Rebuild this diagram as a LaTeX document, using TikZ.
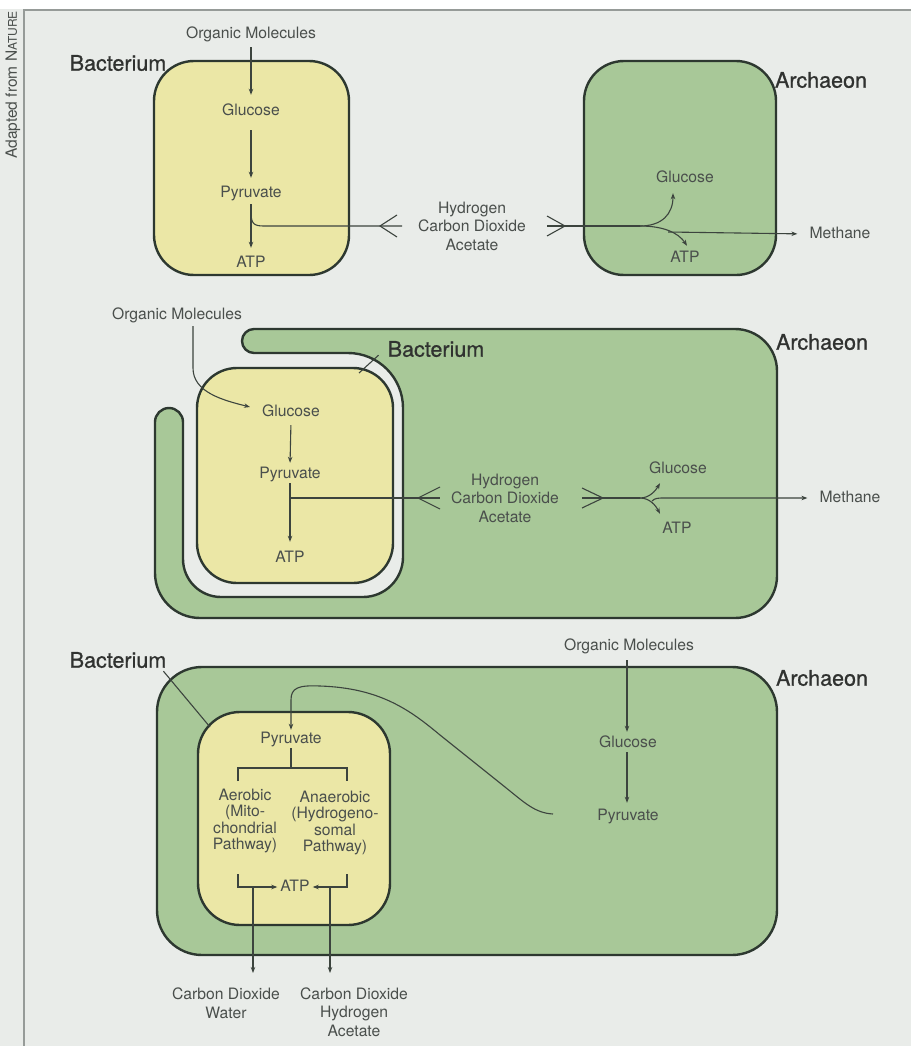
\documentclass[tikz,border=0pt]{standalone}
\usepackage{fontspec}
\setmainfont{TeX Gyre Heros}
\newfontfamily\ttlfont[FakeBold=0.8]{TeX Gyre Heros}
\usetikzlibrary{arrows.meta,calc}
\definecolor{bgc}{RGB}{233,236,233}
\definecolor{yel}{RGB}{235,231,166}
\definecolor{grn}{RGB}{168,200,152}
\definecolor{edgec}{RGB}{45,56,48}
\definecolor{lncol}{RGB}{60,68,62}
\definecolor{txt}{RGB}{74,79,76}
\definecolor{ttl}{RGB}{48,50,48}
\definecolor{frm}{RGB}{150,155,152}
\begin{document}
\begin{tikzpicture}[x=1pt,y=-1pt,
  cell/.style={draw=edgec,line width=2.4pt},
  lbl/.style={text=txt,font=\fontsize{15.7}{18.5}\selectfont,inner sep=2pt,align=center},
  sl/.style={lbl,text height=11pt,text depth=3pt},
  ttlstyle/.style={text=ttl,font=\ttlfont\fontsize{21.5}{24}\selectfont,inner sep=0pt},
  conn/.style={draw=lncol,line width=1.1pt},
  arr/.style={conn,-{Stealth[length=6pt,width=4.5pt]},shorten <=2pt,shorten >=6pt},
  pathtxt/.style={lbl,font=\fontsize{15.7}{16.4}\selectfont}
]
\useasboundingbox (0,0) rectangle (911,1046);
\fill[bgc] (0,0) rectangle (911,1046);
\fill[white] (0,0) rectangle (911,9);
\draw[frm,line width=1.2pt] (24,1046) -- (24,10) -- (911,10);
\node[rotate=90,text=txt,font=\fontsize{15.5}{17}\selectfont,inner sep=0pt] (src) at (13,85) {Adapted from N{\fontsize{12}{13}\selectfont ATURE}};

% ================= TOP PANEL =================
\draw[cell,fill=yel,rounded corners=40pt] (154,61) rectangle (349,275);
\draw[cell,fill=grn,rounded corners=40pt] (584,61) rectangle (776,275);
\node[ttlstyle] (bac1) at (118,63) {Bacterium};
\node[ttlstyle] (arc1) at (821,80) {Archaeon};

\node[sl] (om1) at (251,35) {Organic Molecules};
\node[sl] (glu1) at (251,112) {Glucose};
\node[sl] (pyr1) at (251,193) {Pyruvate};
\node[sl] (atp1) at (251,263) {ATP};
\draw[arr,shorten <=3pt,shorten >=8pt] (om1.south) -- (glu1.north);
\draw[arr,shorten <=9pt,shorten >=6pt] (glu1.south) -- (pyr1.north);
\draw[arr,shorten <=2pt,shorten >=6pt] (pyr1.south) -- (atp1.north);
\coordinate (jb1) at (251,212);
\coordinate (tl1) at (380,226);
\draw[conn] (jb1) .. controls (251,224) and (254,226) .. (264,226) -- (402,226);
\draw[conn] (397,215) -- (tl1) -- (397,237);

\node[lbl] (hca1) at (472,226) {Hydrogen\\Carbon Dioxide\\Acetate};

\coordinate (tr1) at (565,226);
\coordinate (fk1) at (640,226);
\draw[conn] (547,216) -- (tr1) -- (547,236);
\draw[conn] (547,226) -- (fk1);
\node[sl] (glu2) at (685,178) {Glucose};
\node[sl] (atp2) at (685,258) {ATP};
\node[sl] (meth1) at (840,234) {Methane};
\draw[arr,shorten <=0pt,shorten >=0pt] (fk1) .. controls (662,226) and (673,214) .. ($(glu2.south)+(-12,6)$);
\draw[arr,shorten <=0pt,shorten >=0pt] (fk1) .. controls (662,226) and (678,232) .. ($(atp2.north)+(2,-3)$);
\draw[arr,shorten <=0pt,shorten >=10pt] (668,232) -- (meth1.west);

% ================= MIDDLE PANEL =================
\draw[cell,fill=grn] (300,329) -- (735,329)
  arc[start angle=270,end angle=360,radius=42] -- (777,576)
  arc[start angle=0,end angle=90,radius=42] -- (200,618)
  arc[start angle=90,end angle=180,radius=45] -- (155,422)
  arc[start angle=180,end angle=360,radius=14] -- (183,559)
  arc[start angle=180,end angle=90,radius=38] -- (363,597)
  arc[start angle=90,end angle=0,radius=40] -- (403,408)
  arc[start angle=0,end angle=-90,radius=55] -- (254,353)
  arc[start angle=90,end angle=270,radius=12] -- cycle;
\draw[cell,fill=yel,rounded corners=40pt] (197,368) rectangle (393,583);
\node[ttlstyle] (bac2) at (436,349) {Bacterium};
\node[ttlstyle] (arc2) at (822,342) {Archaeon};
\draw[conn] ($(bac2.south west)+(-9,-2)$) -- (359,373);

\node[sl] (om2) at (177,315) {Organic Molecules};
\node[sl] (glu3) at (291,412) {Glucose};
\node[sl] (pyr3) at (290,474) {Pyruvate};
\node[sl] (atp3) at (290,558) {ATP};
\draw[arr,shorten <=0pt,shorten >=0pt] ($(om2.south)+(16,2)$) -- (193,368) .. controls (193,392) and (222,400) .. ($(glu3.west)+(-10,-5)$);
\draw[arr,shorten <=4pt,shorten >=2pt] (glu3.south) -- (pyr3.north);
\draw[arr,shorten <=0pt,shorten >=7pt] (pyr3.south) -- (atp3.north);
\coordinate (jb2) at (290,498);
\coordinate (tl2) at (418,498);
\draw[conn] (jb2) -- (440,498);
\draw[conn] (440,487) -- (tl2) -- (440,509);

\node[lbl] (hca2) at (505,498) {Hydrogen\\Carbon Dioxide\\Acetate};

\coordinate (tr2) at (603,498);
\coordinate (fk2) at (640,498);
\draw[conn] (582,488) -- (tr2) -- (582,508);
\draw[conn] (582,498) -- (fk2);
\node[sl] (glu4) at (678,469) {Glucose};
\node[sl] (atp4) at (677,529) {ATP};
\node[sl] (meth2) at (850,498) {Methane};
\draw[arr,shorten <=0pt,shorten >=0pt] (fk2) .. controls (650,498) and (656,490) .. ($(glu4.south)+(-18,5)$);
\draw[arr,shorten <=0pt,shorten >=0pt] (fk2) .. controls (650,498) and (656,506) .. ($(atp4.north)+(-17,-6)$);
\draw[arr,shorten <=0pt,shorten >=10pt] (652,501) .. controls (655,498) and (658,498) .. (665,498) -- (meth2.west);

% ================= BOTTOM PANEL =================
\draw[cell,fill=grn,rounded corners=45pt] (157,667) rectangle (777,955);
\draw[cell,fill=yel,rounded corners=42pt] (198,712) rectangle (390,925);
\node[ttlstyle] (bac3) at (118,660) {Bacterium};
\node[ttlstyle] (arc3) at (822,678) {Archaeon};
\draw[conn] ($(bac3.south east)+(-3,3)$) -- (210,727);

\node[sl] (om6) at (629,646) {Organic Molecules};
\node[sl] (glu6) at (628,743) {Glucose};
\node[sl] (pyr6) at (628,816) {Pyruvate};
\draw[arr,shorten <=5pt,shorten >=2pt] (om6.south -| 627,0) -- (glu6.north -| 627,0);
\draw[arr,shorten <=0pt,shorten >=4pt] (glu6.south -| 627,0) -- (pyr6.north -| 627,0);

\node[sl] (pyr5) at (291,739) {Pyruvate};
\coordinate (cend) at (553,814);
\draw[arr,shorten <=0pt,shorten >=0pt] (cend) .. controls (535,813) and (525,803) .. (505,787)
  -- (440,735) .. controls (410,710) and (380,688) .. (320,686)
  .. controls (298,685) and (291,688) .. (291,700) -- (pyr5.north);
\coordinate (jb5) at (291,768);
\draw[conn] (pyr5.south) -- (jb5);
\draw[conn] (238,781) -- (238,768) -- (347,768) -- (347,781);

\node[pathtxt] (aer) at (245,821) {Aerobic\\(Mito-\\chondrial\\Pathway)};
\node[pathtxt] (ana) at (335,823) {Anaerobic\\(Hydrogeno-\\somal\\Pathway)};

\node[sl] (atp5) at (295,887) {ATP};
\draw[arr,shorten <=0pt,shorten >=1pt] (238,874) -- (238,887) -- (atp5.west);
\draw[arr,shorten <=0pt,shorten >=1pt] (347,874) -- (347,887) -- (atp5.east);

\node[lbl] (out1) at (226,1003) {Carbon Dioxide\\Water};
\node[lbl] (out2) at (354,1012) {Carbon Dioxide\\Hydrogen\\Acetate};
\coordinate (d1) at (253,887);
\coordinate (d2) at (330,887);
\draw[arr,shorten <=0pt,shorten >=0pt] (d1) -- (d1 |- 0,973);
\draw[arr,shorten <=0pt,shorten >=0pt] (d2) -- (d2 |- 0,973);
\end{tikzpicture}
\end{document}
